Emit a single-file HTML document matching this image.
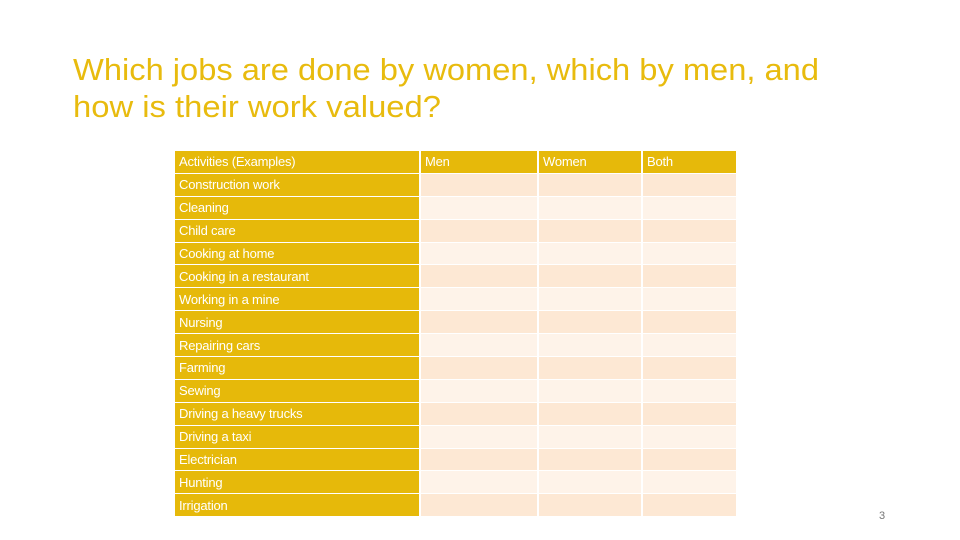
<!DOCTYPE html>
<html><head><meta charset="utf-8"><style>
body{margin:0;width:960px;height:540px;background:#fff;overflow:hidden;font-family:"Liberation Sans",sans-serif;position:relative}
table{position:absolute;left:173px;top:150px;border-collapse:separate;border-spacing:2px 1px;table-layout:fixed}
td{height:21.9px;padding:0 0 0 4px;font-size:13px;color:#fff;white-space:nowrap;overflow:hidden;letter-spacing:-0.2px}
td.a{background:#E6B90A;width:240px}
tr.h td{background:#E6B90A}
tr.d td.c{background:#FDE8D4}
tr.l td.c{background:#FEF3E9}
</style></head><body>
<svg width="960" height="140" style="position:absolute;left:0;top:0">
<text x="73" y="80" font-size="31" fill="#E8BB0E" textLength="746" lengthAdjust="spacingAndGlyphs">Which jobs are done by women, which by men, and</text>
<text x="73" y="117" font-size="31" fill="#E8BB0E" textLength="368" lengthAdjust="spacingAndGlyphs">how is their work valued?</text>
</svg>
<table>
<tr class="h"><td class="a">Activities (Examples)</td><td style="width:112px">Men</td><td style="width:98px">Women</td><td style="width:89px">Both</td></tr>
<tbody id="rows"></tbody>
</table>
<div style="position:absolute;left:879px;top:510px;font-size:11px;color:#777">3</div>
<script>
const activities=["Construction work","Cleaning","Child care","Cooking at home","Cooking in a restaurant","Working in a mine","Nursing","Repairing cars","Farming","Sewing","Driving a heavy trucks","Driving a taxi","Electrician","Hunting","Irrigation"];
const tb=document.getElementById('rows');
activities.forEach((a,i)=>{
 const tr=document.createElement('tr');
 tr.className=i%2?'l':'d';
 
 
 const td=document.createElement('td');td.className='a';td.textContent=a;
 
 
 tr.appendChild(td);
 ['men','women','both'].forEach(k=>{
  const c=document.createElement('td');c.className='c';
  
  
  tr.appendChild(c);
 });
 tb.appendChild(tr);
});
</script>
</body></html>
